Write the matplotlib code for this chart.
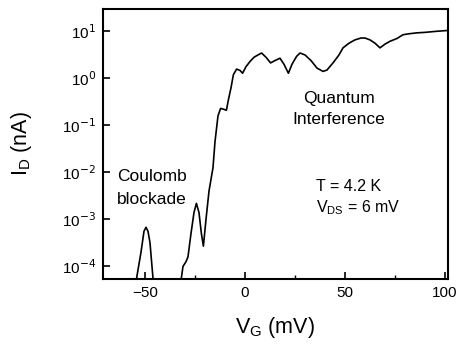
import matplotlib
matplotlib.use("Agg")
import matplotlib.pyplot as plt
from matplotlib.ticker import FixedLocator, NullLocator

plt.rcParams['font.family'] = ['Liberation Sans', 'DejaVu Sans']

VG = [-71, -55, -54, -52, -50.5, -49.5, -48.5, -47.5, -46.5, -45.5,
      -33, -32, -31, -29.5, -28.5, -27, -25.5, -24.3, -23, -21.8, -20.8,
      -19.5, -18, -16, -15, -13.5, -12.2, -10.5, -9.3, -8.3, -7, -5.8,
      -4.2, -2.5, -1.2, 0.5, 2.5, 4.5, 6.5, 8.3, 10.5, 12.8, 15, 17.5,
      19.5, 21.7, 23.5, 25.8, 27.5, 30, 33, 36, 39, 41, 44, 47, 49, 52,
      55, 58, 60, 62.5, 65, 67.5, 70, 72.5, 76, 79, 82, 86, 90, 95, 101.5]
ID = [3.2e-5, 3.2e-5, 6.3e-5, 2.0e-4, 5.6e-4, 6.8e-4, 5.6e-4, 3.2e-4, 1.0e-4, 3.2e-5,
      3.2e-5, 5.0e-5, 1.0e-4, 1.26e-4, 1.6e-4, 5.0e-4, 1.4e-3, 2.2e-3, 1.4e-3, 5.0e-4, 2.7e-4,
      1.0e-3, 4.0e-3, 1.26e-2, 4.5e-2, 0.16, 0.23, 0.22, 0.21, 0.35, 0.63, 1.2,
      1.58, 1.48, 1.29, 1.78, 2.29, 2.82, 3.16, 3.47, 2.82, 2.14, 2.4, 2.69,
      2.0, 1.29, 2.0, 2.95, 3.47, 3.16, 2.4, 1.66, 1.41, 1.51, 2.14, 3.16, 4.47, 5.62,
      6.61, 7.24, 7.24, 6.61, 5.62, 4.47, 5.37, 6.17, 7.08, 8.51, 8.91, 9.33, 9.55, 10.0, 10.5]

xticks = [-50, 0, 50, 100]
xminor = [-25, 25, 75]
yticks = [1e-4, 1e-3, 1e-2, 1e-1, 1e0, 1e1]
ytick_labels = [r'10$^{-4}$', r'10$^{-3}$', r'10$^{-2}$', r'10$^{-1}$', r'10$^{0}$', r'10$^{1}$']

fig = plt.figure(figsize=(4.61, 3.45), dpi=100)
ax = fig.add_axes([0.2234, 0.1913, 0.7484, 0.7826])
ax.plot(VG, ID, color='black', lw=1.2)
ax.set_yscale('log')
ax.set_xlim(-71, 101.5)
ax.set_ylim(5.4e-5, 30)
ax.xaxis.set_major_locator(FixedLocator(xticks))
ax.xaxis.set_minor_locator(FixedLocator(xminor))
ax.yaxis.set_major_locator(FixedLocator(yticks))
ax.yaxis.set_minor_locator(NullLocator())
ax.set_yticklabels(ytick_labels)
ax.tick_params(which='major', direction='in', length=5, width=1.2, labelsize=11, pad=5)
ax.tick_params(which='minor', direction='in', length=3, width=1.0)
for s in ax.spines.values():
    s.set_linewidth(1.5)

ax.set_xlabel(r'V$_\mathregular{G}$ (mV)', fontsize=15.5, labelpad=11)
ax.set_ylabel(r'I$_\mathregular{D}$ (nA)', fontsize=15.5, labelpad=20)

ax.text(-64, 10**-2.33, 'Coulomb\nblockade', fontsize=12.5, ha='left', va='center', linespacing=1.6)
ax.text(47, 10**-0.645, 'Quantum\nInterference', fontsize=12.5, ha='center', va='center', linespacing=1.5)
ax.text(35.5, 10**-2.54, 'T = 4.2 K\n' + r'V$_\mathregular{DS}$ = 6 mV', fontsize=11.5, ha='left', va='center', linespacing=1.35)

fig.savefig('out.png', dpi=100)
